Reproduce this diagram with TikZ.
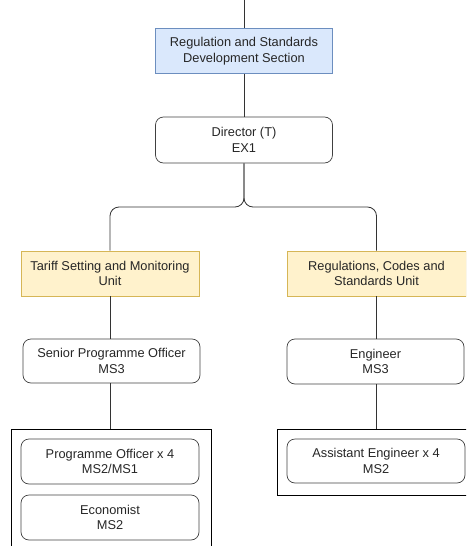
\documentclass[tikz,border=0pt]{standalone}
\usepackage{fontspec}
\setmainfont{Liberation Sans}
\begin{document}
\begin{tikzpicture}[x=1pt,y=-1pt,
  every node/.style={font=\fontsize{12.8}{15.5}\selectfont, text=black!85, align=center, inner sep=0pt},
  box/.style={draw=black!75, line width=0.7pt, minimum width=177pt, minimum height=45pt},
  sectbox/.style={box, rectangle, fill={rgb,255:red,218;green,232;blue,252}, draw={rgb,255:red,108;green,142;blue,191}},
  unitbox/.style={box, rectangle, fill={rgb,255:red,255;green,242;blue,204}, draw={rgb,255:red,214;green,182;blue,86}},
  rolebox/.style={box, rounded corners=8pt},
  group/.style={draw=black, line width=0.8pt, rectangle, inner sep=0pt},
  link/.style={draw=black!80, line width=0.8pt}
]
\useasboundingbox (0,0) rectangle (466,546);
\clip (0,0) rectangle (466,546);

\coordinate (top) at (244,0);
\node[sectbox] (sect) at (244,51) {Regulation and Standards\\Development Section};
\node[rolebox, minimum height=46pt] (dir) at (244,140) {Director (T)\\EX1};

\node[unitbox, minimum width=178pt] (tariff) at (110,273.5) {Tariff Setting and Monitoring\\Unit};
\node[unitbox, minimum width=179pt] (regs) at (376.5,273.5) {Regulations, Codes and\\Standards Unit};

\node[rolebox, minimum height=44pt] (spo) at (111.5,361) {Senior Programme Officer\\MS3};
\node[rolebox] (eng) at (375.5,361.5) {Engineer\\MS3};

\node[group, minimum width=200pt, minimum height=140pt] (lgrp) at (111,499) {};
\node[group, minimum width=200pt, minimum height=66pt] (rgrp) at (377,462) {};

\node[rolebox, minimum width=178pt] (po) at (110,461.5) {Programme Officer x 4\\MS2/MS1};
\node[rolebox, minimum width=178pt] (econ) at (110,517.5) {Economist\\MS2};
\node[rolebox, minimum width=178pt, minimum height=44pt] (ae) at (376,461) {Assistant Engineer x 4\\MS2};

\draw[link] (top) -- (sect.north);
\draw[link] (sect.south) -- (dir.north);
\draw[link, rounded corners=9pt] (dir.south) -- (244,207) -- (tariff.north |- 0,207) -- (tariff.north);
\draw[link, rounded corners=9pt] (dir.south) -- (244,207) -- (regs.north |- 0,207) -- (regs.north);
\draw[link] (tariff.south) -- (spo.north -| tariff.south);
\draw[link] (regs.south) -- (eng.north -| regs.south);
\draw[link] (spo.south -| tariff.south) -- (lgrp.north -| tariff.south);
\draw[link] (eng.south -| regs.south) -- (rgrp.north -| regs.south);
\end{tikzpicture}
\end{document}
